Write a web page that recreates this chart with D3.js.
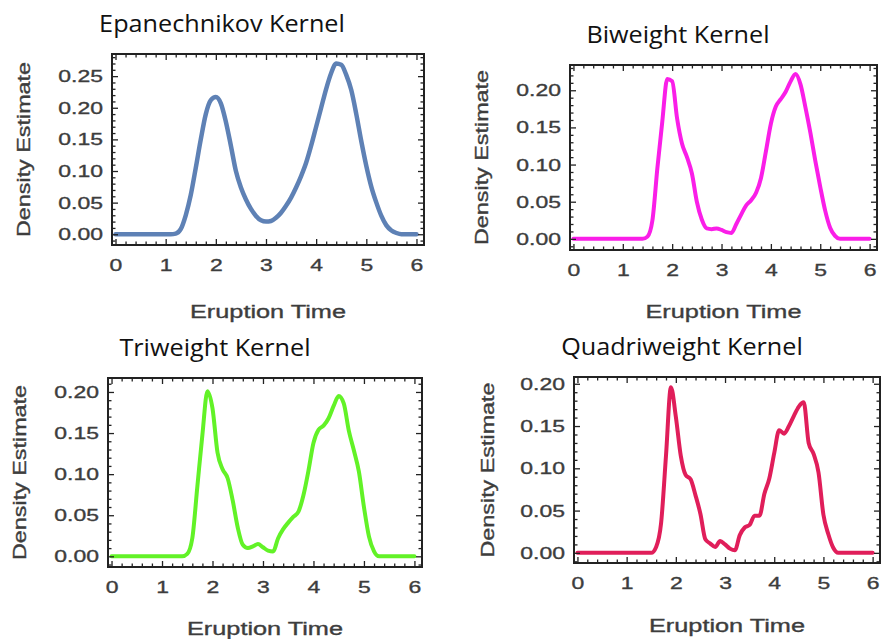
<!DOCTYPE html>
<html>
<head>
<meta charset="utf-8">
<script src="https://cdn.jsdelivr.net/npm/d3@7"></script>
<style>
  body { margin: 0; background: #fff; }
</style>
</head>
<body>
<div id="d3"></div>
<script>
// eruption time grid the density curves were read at
const xGrid = [
  0.0, 0.1, 0.2, 0.3, 0.4, 0.5, 0.6, 0.7, 0.8, 0.9,
  1.0, 1.1, 1.2, 1.3, 1.4, 1.5, 1.6, 1.7, 1.8, 1.9,
  2.0, 2.1, 2.2, 2.3, 2.4, 2.5, 2.6, 2.7, 2.8, 2.9,
  3.0, 3.1, 3.2, 3.3, 3.4, 3.5, 3.6, 3.7, 3.8, 3.9,
  4.0, 4.1, 4.2, 4.3, 4.4, 4.5, 4.6, 4.7, 4.8, 4.9,
  5.0, 5.1, 5.2, 5.3, 5.4, 5.5, 5.6, 5.7, 5.8, 5.9,
  6.0
];

const epanechnikov = [
  0, 0, 0, 0, 0, 0, 0, 0, 0, 0,
  0, 0, 0.001, 0.008, 0.03, 0.062, 0.105, 0.15, 0.19, 0.212,
  0.217, 0.207, 0.178, 0.14, 0.1, 0.074, 0.055, 0.04, 0.029, 0.022,
  0.02, 0.021, 0.026, 0.034, 0.045, 0.058, 0.074, 0.092, 0.113, 0.14,
  0.17, 0.2, 0.23, 0.255, 0.27, 0.268, 0.252, 0.228, 0.19, 0.147,
  0.108, 0.075, 0.05, 0.029, 0.014, 0.006, 0.002, 0, 0, 0,
  0
];

const biweight = [
  0, 0, 0, 0, 0, 0, 0, 0, 0, 0,
  0, 0, 0, 0, 0, 0.003, 0.025, 0.095, 0.158, 0.215,
  0.212, 0.162, 0.128, 0.11, 0.088, 0.05, 0.026, 0.014, 0.013, 0.014,
  0.012, 0.009, 0.008, 0.02, 0.033, 0.045, 0.052, 0.062, 0.082, 0.118,
  0.155, 0.178, 0.188, 0.198, 0.212, 0.222, 0.208, 0.177, 0.143, 0.105,
  0.07, 0.038, 0.015, 0.004, 0, 0, 0, 0, 0, 0,
  0
];

const triweight = [
  0, 0, 0, 0, 0, 0, 0, 0, 0, 0,
  0, 0, 0, 0, 0, 0.003, 0.022, 0.085, 0.148, 0.201,
  0.18, 0.126, 0.106, 0.095, 0.068, 0.035, 0.014, 0.01, 0.012, 0.015,
  0.011, 0.007, 0.006, 0.022, 0.033, 0.041, 0.048, 0.054, 0.074, 0.104,
  0.138, 0.154, 0.159, 0.168, 0.183, 0.195, 0.186, 0.153, 0.129, 0.103,
  0.06, 0.024, 0.006, 0, 0, 0, 0, 0, 0, 0,
  0
];

const quadriweight = [
  0, 0, 0, 0, 0, 0, 0, 0, 0, 0,
  0, 0, 0, 0, 0, 0, 0.007, 0.035, 0.115, 0.196,
  0.161, 0.115, 0.092, 0.087, 0.068, 0.046, 0.016, 0.011, 0.007, 0.014,
  0.01, 0.005, 0.003, 0.021, 0.03, 0.033, 0.044, 0.044, 0.07, 0.088,
  0.118, 0.145, 0.141, 0.15, 0.162, 0.173, 0.178, 0.13, 0.117, 0.095,
  0.045, 0.022, 0.006, 0, 0, 0, 0, 0, 0, 0,
  0
];

const titles = ["Epanechnikov Kernel", "Biweight Kernel", "Triweight Kernel", "Quadriweight Kernel"];
const xTicks = [0, 1, 2, 3, 4, 5, 6];
const yTicksEpan = [0, 0.05, 0.10, 0.15, 0.20, 0.25];
const yTicks = [0, 0.05, 0.10, 0.15, 0.20];
const xLabel = "Eruption Time";
const yLabel = "Density Estimate";

// where each panel sits on the page (frame box, title, axis labels)
const panels = [
  { values: epanechnikov, ticks: yTicksEpan, color: "#5e81b5", width: 4.5,
    left: 112, top: 54, w: 312, h: 191, yDom: [-0.017, 0.285],
    titleX: 222, titleY: 32, yLabX: 30, xLabY: 318 },
  { values: biweight, ticks: yTicks, color: "#fa1ee8", width: 4,
    left: 570, top: 65, w: 307, h: 185, yDom: [-0.015, 0.234],
    titleX: 678, titleY: 43, yLabX: 488, xLabY: 318 },
  { values: triweight, ticks: yTicks, color: "#62f227", width: 4,
    left: 108, top: 378, w: 314, h: 189, yDom: [-0.013, 0.217],
    titleX: 215, titleY: 356, yLabX: 26, xLabY: 635 },
  { values: quadriweight, ticks: yTicks, color: "#e01e5a", width: 4,
    left: 574, top: 377, w: 306, h: 186, yDom: [-0.012, 0.208],
    titleX: 682, titleY: 355, yLabX: 494, xLabY: 632 }
];

const textColor = "#3d3d3d";
const frameColor = "#222";

// the reference text is wider than Arial, so stretch it along its run
function widen(selection, k) {
    selection.each(function () {
        const w = this.getComputedTextLength();
        d3.select(this)
            .attr("textLength", w * k)
            .attr("lengthAdjust", "spacingAndGlyphs");
    });
}

// slightly heavier grey text like the blurred Mathematica labels
function greyText(sel) {
    sel.attr("fill", textColor)
        .attr("stroke", textColor)
        .attr("stroke-width", 0.35)
        .attr("font-family", "'Liberation Sans', Arial, sans-serif");
}

function styleAxis(g) {
    g.select(".domain").remove();
    g.selectAll("line").attr("stroke", frameColor).attr("stroke-width", 1.3);
    g.selectAll("text").call(greyText).attr("font-size", 17);
}

function drawPanel(svg, p, i) {
    const x = d3.scaleLinear().domain([-0.07, 6.15]).range([p.left, p.left + p.w]);
    const y = d3.scaleLinear().domain(p.yDom).range([p.top + p.h, p.top]);

    const minorX = d3.range(0, 6.2, 0.2).filter(v => Math.abs(v - Math.round(v)) > 1e-6);
    const minorY = d3.range(-0.01, p.yDom[1], 0.01)
        .filter(v => Math.abs(v / 0.05 - Math.round(v / 0.05)) > 1e-6);

    const g = svg.append("g").attr("class", "panel");

    // curve first, frame on top like Mathematica
    const line = d3.line()
        .x((d, j) => x(xGrid[j]))
        .y(d => y(d))
        .curve(d3.curveMonotoneX);

    g.append("path")
        .datum(p.values)
        .attr("d", line)
        .style("fill", "none")
        .style("stroke", p.color)
        .style("stroke-width", p.width)
        .style("stroke-linejoin", "round")
        .style("stroke-linecap", "round");

    // bottom axis with labels, inward ticks
    const bottom = g.append("g")
        .attr("transform", `translate(0,${p.top + p.h})`)
        .call(d3.axisBottom(x).tickValues(xTicks).tickFormat(d3.format("d"))
            .tickSizeInner(-6).tickSizeOuter(0).tickPadding(14));
    styleAxis(bottom);
    widen(bottom.selectAll("text"), 1.35);

    g.append("g")
        .attr("transform", `translate(0,${p.top + p.h})`)
        .call(d3.axisBottom(x).tickValues(minorX).tickFormat("").tickSize(-3.5))
        .call(styleAxis);

    const left = g.append("g")
        .attr("transform", `translate(${p.left},0)`)
        .call(d3.axisLeft(y).tickValues(p.ticks).tickFormat(d3.format(".2f"))
            .tickSizeInner(-6).tickSizeOuter(0).tickPadding(9));
    styleAxis(left);
    widen(left.selectAll("text"), 1.35);

    g.append("g")
        .attr("transform", `translate(${p.left},0)`)
        .call(d3.axisLeft(y).tickValues(minorY).tickFormat("").tickSize(-3.5))
        .call(styleAxis);

    // top and right frame ticks, no labels
    g.append("g")
        .attr("transform", `translate(0,${p.top})`)
        .call(d3.axisTop(x).tickValues(xTicks).tickFormat("").tickSize(-6))
        .call(styleAxis);
    g.append("g")
        .attr("transform", `translate(0,${p.top})`)
        .call(d3.axisTop(x).tickValues(minorX).tickFormat("").tickSize(-3.5))
        .call(styleAxis);
    g.append("g")
        .attr("transform", `translate(${p.left + p.w},0)`)
        .call(d3.axisRight(y).tickValues(p.ticks).tickFormat("").tickSize(-6))
        .call(styleAxis);
    g.append("g")
        .attr("transform", `translate(${p.left + p.w},0)`)
        .call(d3.axisRight(y).tickValues(minorY).tickFormat("").tickSize(-3.5))
        .call(styleAxis);

    g.append("rect")
        .attr("x", p.left)
        .attr("y", p.top)
        .attr("width", p.w)
        .attr("height", p.h)
        .style("fill", "none")
        .style("stroke", frameColor)
        .style("stroke-width", 2);

    // axis labels
    g.append("text")
        .attr("x", p.left + p.w / 2)
        .attr("y", p.xLabY)
        .attr("text-anchor", "middle")
        .attr("font-size", 18)
        .attr("textLength", 156)
        .attr("lengthAdjust", "spacingAndGlyphs")
        .call(greyText)
        .text(xLabel);

    g.append("text")
        .attr("transform", `translate(${p.yLabX},${p.top + p.h / 2}) rotate(-90)`)
        .attr("text-anchor", "middle")
        .attr("font-size", 18)
        .attr("textLength", 175)
        .attr("lengthAdjust", "spacingAndGlyphs")
        .call(greyText)
        .text(yLabel);

    // panel title
    const title = svg.append("text")
        .attr("x", p.titleX)
        .attr("y", p.titleY)
        .attr("text-anchor", "middle")
        .attr("font-family", "'Open Sans', sans-serif")
        .attr("font-size", 24)
        .attr("fill", "#111")
        .text(titles[i]);
    widen(title, 1.05);
}

function drawSVG() {
    const svg = d3
        .select("#d3")
        .append("svg")
        .attr("width", 887)
        .attr("height", 639);

    panels.forEach((p, i) => drawPanel(svg, p, i));
}

drawSVG();
</script>
</body>
</html>
